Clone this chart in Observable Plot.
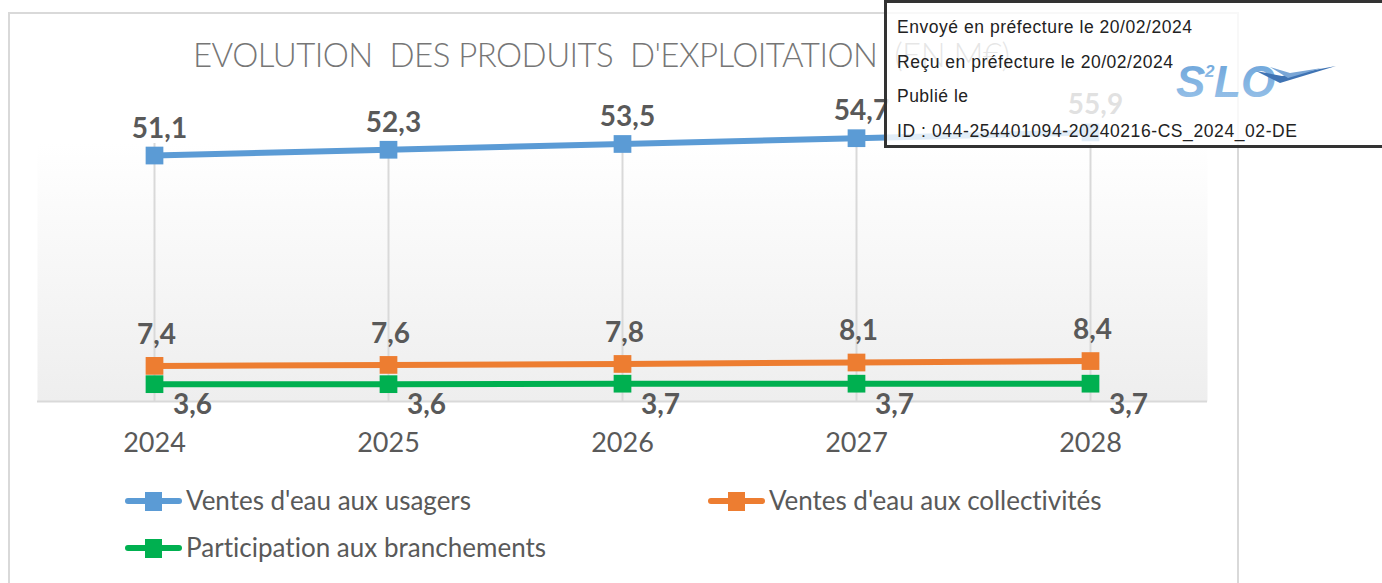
<!DOCTYPE html>
<html><head><meta charset="utf-8">
<script src="https://cdn.jsdelivr.net/npm/d3@7"></script>
<script src="https://cdn.jsdelivr.net/npm/@observablehq/plot@0.6"></script>
<style>
html,body{margin:0;padding:0;background:#fff;}
#wrap{position:relative;width:1382px;height:583px;overflow:hidden;background:#fff;}
#frame{position:absolute;left:8px;top:12px;width:1231px;height:640px;border:2px solid #d9d9d9;box-sizing:border-box;}
#chart{position:absolute;left:0;top:0;}
.t{position:absolute;white-space:pre;line-height:1;display:inline-block;}
#stamp{position:absolute;left:884px;top:0;width:540px;height:148px;border:3px solid #333;box-sizing:border-box;background:rgba(255,255,255,0.82);}
</style></head>
<body>
<div id="wrap">
  <div id="frame"></div>
  <div id="chart"></div>
</div>
<script>
// ---- data ----
const years = ["2024", "2025", "2026", "2027", "2028"];
const usagers = [51.1, 52.3, 53.5, 54.7, 55.9];
const collectivites = [7.4, 7.6, 7.8, 8.1, 8.4];
const branchements = [3.6, 3.6, 3.7, 3.7, 3.7];
const seriesNames = ["Ventes d'eau aux usagers", "Ventes d'eau aux collectivités", "Participation aux branchements"];
const seriesColors = ["#5B9BD5", "#ED7D31", "#00B050"];
const title = "EVOLUTION  DES PRODUITS  D'EXPLOITATION  (EN M€)";
const stampLines = ["Envoyé en préfecture le 20/02/2024", "Reçu en préfecture le 20/02/2024", "Publié le", "ID : 044-254401094-20240216-CS_2024_02-DE"];

const seriesValues = [usagers, collectivites, branchements];
const rows = seriesValues.flatMap((vals, s) => vals.map((v, i) => ({year: years[i], value: v, series: seriesNames[s], label: v.toFixed(1).replace(".", ",")})));
const bySeries = s => rows.filter(d => d.series === seriesNames[s]);

const yMax = 53.6;
const labelFont = {fontSize: 28, fontWeight: "bold", fill: "#595959"};

const svg = Plot.plot({
  width: 1382, height: 470,
  marginLeft: 37, marginRight: 175, marginTop: 143, marginBottom: 69,
  x: {type: "point", domain: years, padding: 0.5, axis: null},
  y: {domain: [0, yMax], axis: null},
  color: {domain: seriesNames, range: seriesColors},
  style: {fontFamily: "Lato, sans-serif", background: "transparent", overflow: "visible"},
  marks: [
    Plot.frame({fill: "url(#plotbg)", stroke: "none"}),
    Plot.ruleX(years, {stroke: "#d9d9d9", strokeWidth: 2}),
    Plot.ruleY([0], {stroke: "#d9d9d9", strokeWidth: 2}),
    Plot.axisX({tickSize: 0, tickPadding: 31, fontSize: 27, fill: "#595959", textStroke: "none", label: null}),
    Plot.line(rows, {x: "year", y: "value", z: "series", stroke: "series", strokeWidth: 6}),
    Plot.dot(rows, {x: "year", y: "value", fill: "series", symbol: "square", r: 10, stroke: "none"}),
    Plot.text(bySeries(0), {x: "year", y: "value", text: "label", dx: 5, dy: -27, ...labelFont}),
    Plot.text(bySeries(1), {x: "year", y: "value", text: "label", dx: 2, dy: -31, ...labelFont}),
    Plot.text(bySeries(2), {x: "year", y: "value", text: "label", dx: 38, dy: 21, ...labelFont})
  ]
});
const ns = "http://www.w3.org/2000/svg";
const defs = document.createElementNS(ns, "defs");
defs.innerHTML = '<linearGradient id="plotbg" x1="0" y1="0" x2="0" y2="1"><stop offset="0" stop-color="#ffffff"/><stop offset="1" stop-color="#eeeeee"/></linearGradient>';
svg.insertBefore(defs, svg.firstChild);
document.getElementById("chart").appendChild(svg);

const wrap = document.getElementById("wrap");
function placeText(text, o) {
  const el = document.createElement("div");
  el.className = "t";
  el.textContent = text;
  el.style.fontFamily = o.font;
  el.style.fontSize = o.size + "px";
  el.style.fontWeight = o.weight || "normal";
  if (o.italic) el.style.fontStyle = "italic";
  el.style.color = o.color;
  el.style.left = o.x + "px";
  el.style.top = "0px";
  if (o.z) el.style.zIndex = o.z;
  wrap.appendChild(el);
  if (o.width) {
    const w = el.getBoundingClientRect().width;
    const n = Math.max(1, text.length - 1);
    el.style.letterSpacing = ((o.width - w) / n) + "px";
  }
  const m = document.createElement("span");
  m.style.display = "inline-block"; m.style.width = "0"; m.style.height = "0"; m.style.verticalAlign = "baseline";
  el.appendChild(m);
  const off = m.getBoundingClientRect().top - el.getBoundingClientRect().top;
  el.removeChild(m);
  el.style.top = (o.baseline - off) + "px";
  return el;
}

// title
placeText(title, {font: "Lato, sans-serif", size: 33, weight: 300, color: "#767676", x: 193, baseline: 67, width: 817});

// legend
const legendItems = [
  {s: 0, x: 125, baseline: 510, width: 285},
  {s: 1, x: 708, baseline: 510, width: 333},
  {s: 2, x: 125, baseline: 557, width: 361}
];
legendItems.forEach(it => {
  const mk = document.createElementNS(ns, "svg");
  mk.setAttribute("width", 60); mk.setAttribute("height", 24);
  mk.style.position = "absolute";
  mk.style.left = it.x + "px";
  mk.style.top = (it.baseline - 21) + "px";
  const c = seriesColors[it.s];
  mk.innerHTML = `<line x1="3" y1="12" x2="54" y2="12" stroke="${c}" stroke-width="6" stroke-linecap="round"/><rect x="20" y="3" width="17" height="19" fill="${c}"/>`;
  wrap.appendChild(mk);
  placeText(seriesNames[it.s], {font: "Lato, sans-serif", size: 26, color: "#595959", x: it.x + 61, baseline: it.baseline, width: it.width});
});

// stamp
const stamp = document.createElement("div");
stamp.id = "stamp";
wrap.appendChild(stamp);
const stampBase = [33, 67.5, 102, 137];
const stampW = [295, 276, 71, 400];
stampLines.forEach((t, i) => {
  placeText(t, {font: "'Liberation Sans', Arial, sans-serif", size: 17.5, color: "#222", x: 897, baseline: stampBase[i], width: stampW[i], z: 5});
});
const logo = document.createElementNS(ns, "svg");
logo.setAttribute("width", 180); logo.setAttribute("height", 50);
logo.style.position = "absolute"; logo.style.left = "1170px"; logo.style.top = "55px"; logo.style.zIndex = 6;
logo.innerHTML = `
<defs><linearGradient id="lg" x1="0" y1="0" x2="0" y2="1"><stop offset="0" stop-color="#6aa3d9"/><stop offset="1" stop-color="#9cc4ea"/></linearGradient></defs>
<text x="6" y="42" font-family="Liberation Sans, Arial" font-weight="bold" font-style="italic" font-size="44" fill="url(#lg)">S</text>
<text x="35" y="22" font-family="Liberation Sans, Arial" font-weight="bold" font-style="italic" font-size="17" fill="url(#lg)">2</text>
<text x="44" y="42" font-family="Liberation Sans, Arial" font-weight="bold" font-style="italic" font-size="44" fill="url(#lg)">LO</text>
<path d="M86,16 L110,28 L166,11 L112,21 Z" fill="#3f73b3"/>
<path d="M100,12 L118,23 L152,13 L120,18 Z" fill="#7aa6d6"/>`;
wrap.appendChild(logo);
</script>
</body></html>
